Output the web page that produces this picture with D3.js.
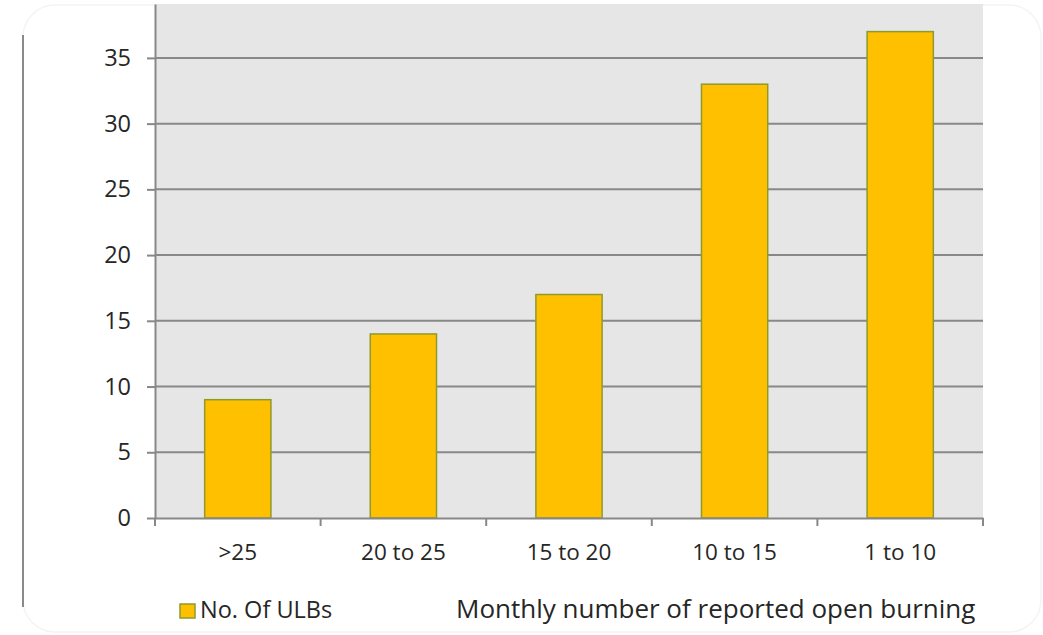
<!DOCTYPE html>
<html>
<head>
<meta charset="utf-8">
<script src="https://cdn.jsdelivr.net/npm/d3@7"></script>
<style>
  body { margin: 0; background: #fff; }
  svg { display: block; }
  text { font-family: "Open Sans", sans-serif; fill: #262626; }
</style>
</head>
<body>
<div id="chart"></div>
<script>
const categories = [">25", "20 to 25", "15 to 20", "10 to 15", "1 to 10"];
const ulbs = [9, 14, 17, 33, 37];
const yTicks = [0, 5, 10, 15, 20, 25, 30, 35];
const seriesName = "No. Of ULBs";
const axisTitle = "Monthly number of reported open burning";

const W = 1043, H = 635;
const margin = { top: 4, right: 60, bottom: 117, left: 155 },
      width = W - margin.left - margin.right,
      height = H - margin.top - margin.bottom;

const svg = d3.select("#chart").append("svg")
    .attr("width", W)
    .attr("height", H);

// card outline
svg.append("rect")
  .attr("x", 23).attr("y", 5)
  .attr("width", 1018).attr("height", 627)
  .attr("rx", 32)
  .attr("fill", "none")
  .attr("stroke", "#f4f4f4")
  .attr("stroke-width", 1.5);
svg.append("line")
  .attr("x1", 23).attr("x2", 23)
  .attr("y1", 35).attr("y2", 607)
  .attr("stroke", "#8a8a8a")
  .attr("stroke-width", 2);

const g = svg.append("g")
    .attr("transform", "translate(" + margin.left + "," + margin.top + ")");

const x = d3.scaleBand().domain(categories).range([0, width]).paddingInner(0.6).paddingOuter(0.3);
const xb = d3.scaleBand().domain(categories).range([0, width]);
const y = d3.scaleLinear().domain([0, 39.1]).range([height, 0]);

g.append("rect")
  .attr("width", width)
  .attr("height", height)
  .attr("fill", "#e6e6e6");

// gridlines
g.selectAll(".grid")
  .data(yTicks.slice(1))
  .join("line")
  .attr("class", "grid")
  .attr("x1", 0).attr("x2", width)
  .attr("y1", d => y(d)).attr("y2", d => y(d))
  .attr("stroke", "#888")
  .attr("stroke-width", 2);

// bars
g.selectAll(".bar")
  .data(ulbs)
  .join("rect")
  .attr("class", "bar")
  .attr("x", (d, i) => x(categories[i]))
  .attr("width", x.bandwidth())
  .attr("y", d => y(d))
  .attr("height", d => height - y(d))
  .attr("fill", "#ffc000")
  .attr("stroke", "#8f9a2c")
  .attr("stroke-width", 1.5);

// y axis
const yAxis = g.append("g")
  .call(d3.axisLeft(y).tickValues(yTicks).tickSizeInner(8).tickSizeOuter(0).tickPadding(16));
yAxis.select(".domain").attr("stroke", "#888").attr("stroke-width", 2);
yAxis.selectAll(".tick line").attr("stroke", "#888").attr("stroke-width", 2);
yAxis.selectAll("text").attr("font-size", 23.5).attr("fill", "#262626")
  .style("font-family", "'Open Sans', sans-serif");

// x axis
const xAxis = g.append("g")
  .attr("transform", "translate(0," + height + ")")
  .call(d3.axisBottom(xb).tickSize(0).tickPadding(26));
xAxis.select(".domain").attr("stroke", "#888").attr("stroke-width", 2);
xAxis.selectAll("text").attr("font-size", 22.5).attr("fill", "#262626")
  .style("font-family", "'Open Sans', sans-serif");

const bounds = categories.map(c => xb(c)).concat([width]);
xAxis.selectAll(".btick")
  .data(bounds)
  .join("line")
  .attr("class", "btick")
  .attr("x1", d => d).attr("x2", d => d)
  .attr("y1", 0).attr("y2", 8)
  .attr("stroke", "#888")
  .attr("stroke-width", 2);

// legend
svg.append("rect")
  .attr("x", 180).attr("y", 604)
  .attr("width", 15).attr("height", 14)
  .attr("fill", "#ffc000")
  .attr("stroke", "#8f9a2c")
  .attr("stroke-width", 1.5);
svg.append("text")
  .attr("x", 200).attr("y", 618)
  .attr("font-size", 23.5)
  .text(seriesName);

svg.append("text")
  .attr("x", 456).attr("y", 618)
  .attr("font-size", 26)
  .attr("fill", "#1e1e1e")
  .text(axisTitle);
</script>
</body>
</html>
